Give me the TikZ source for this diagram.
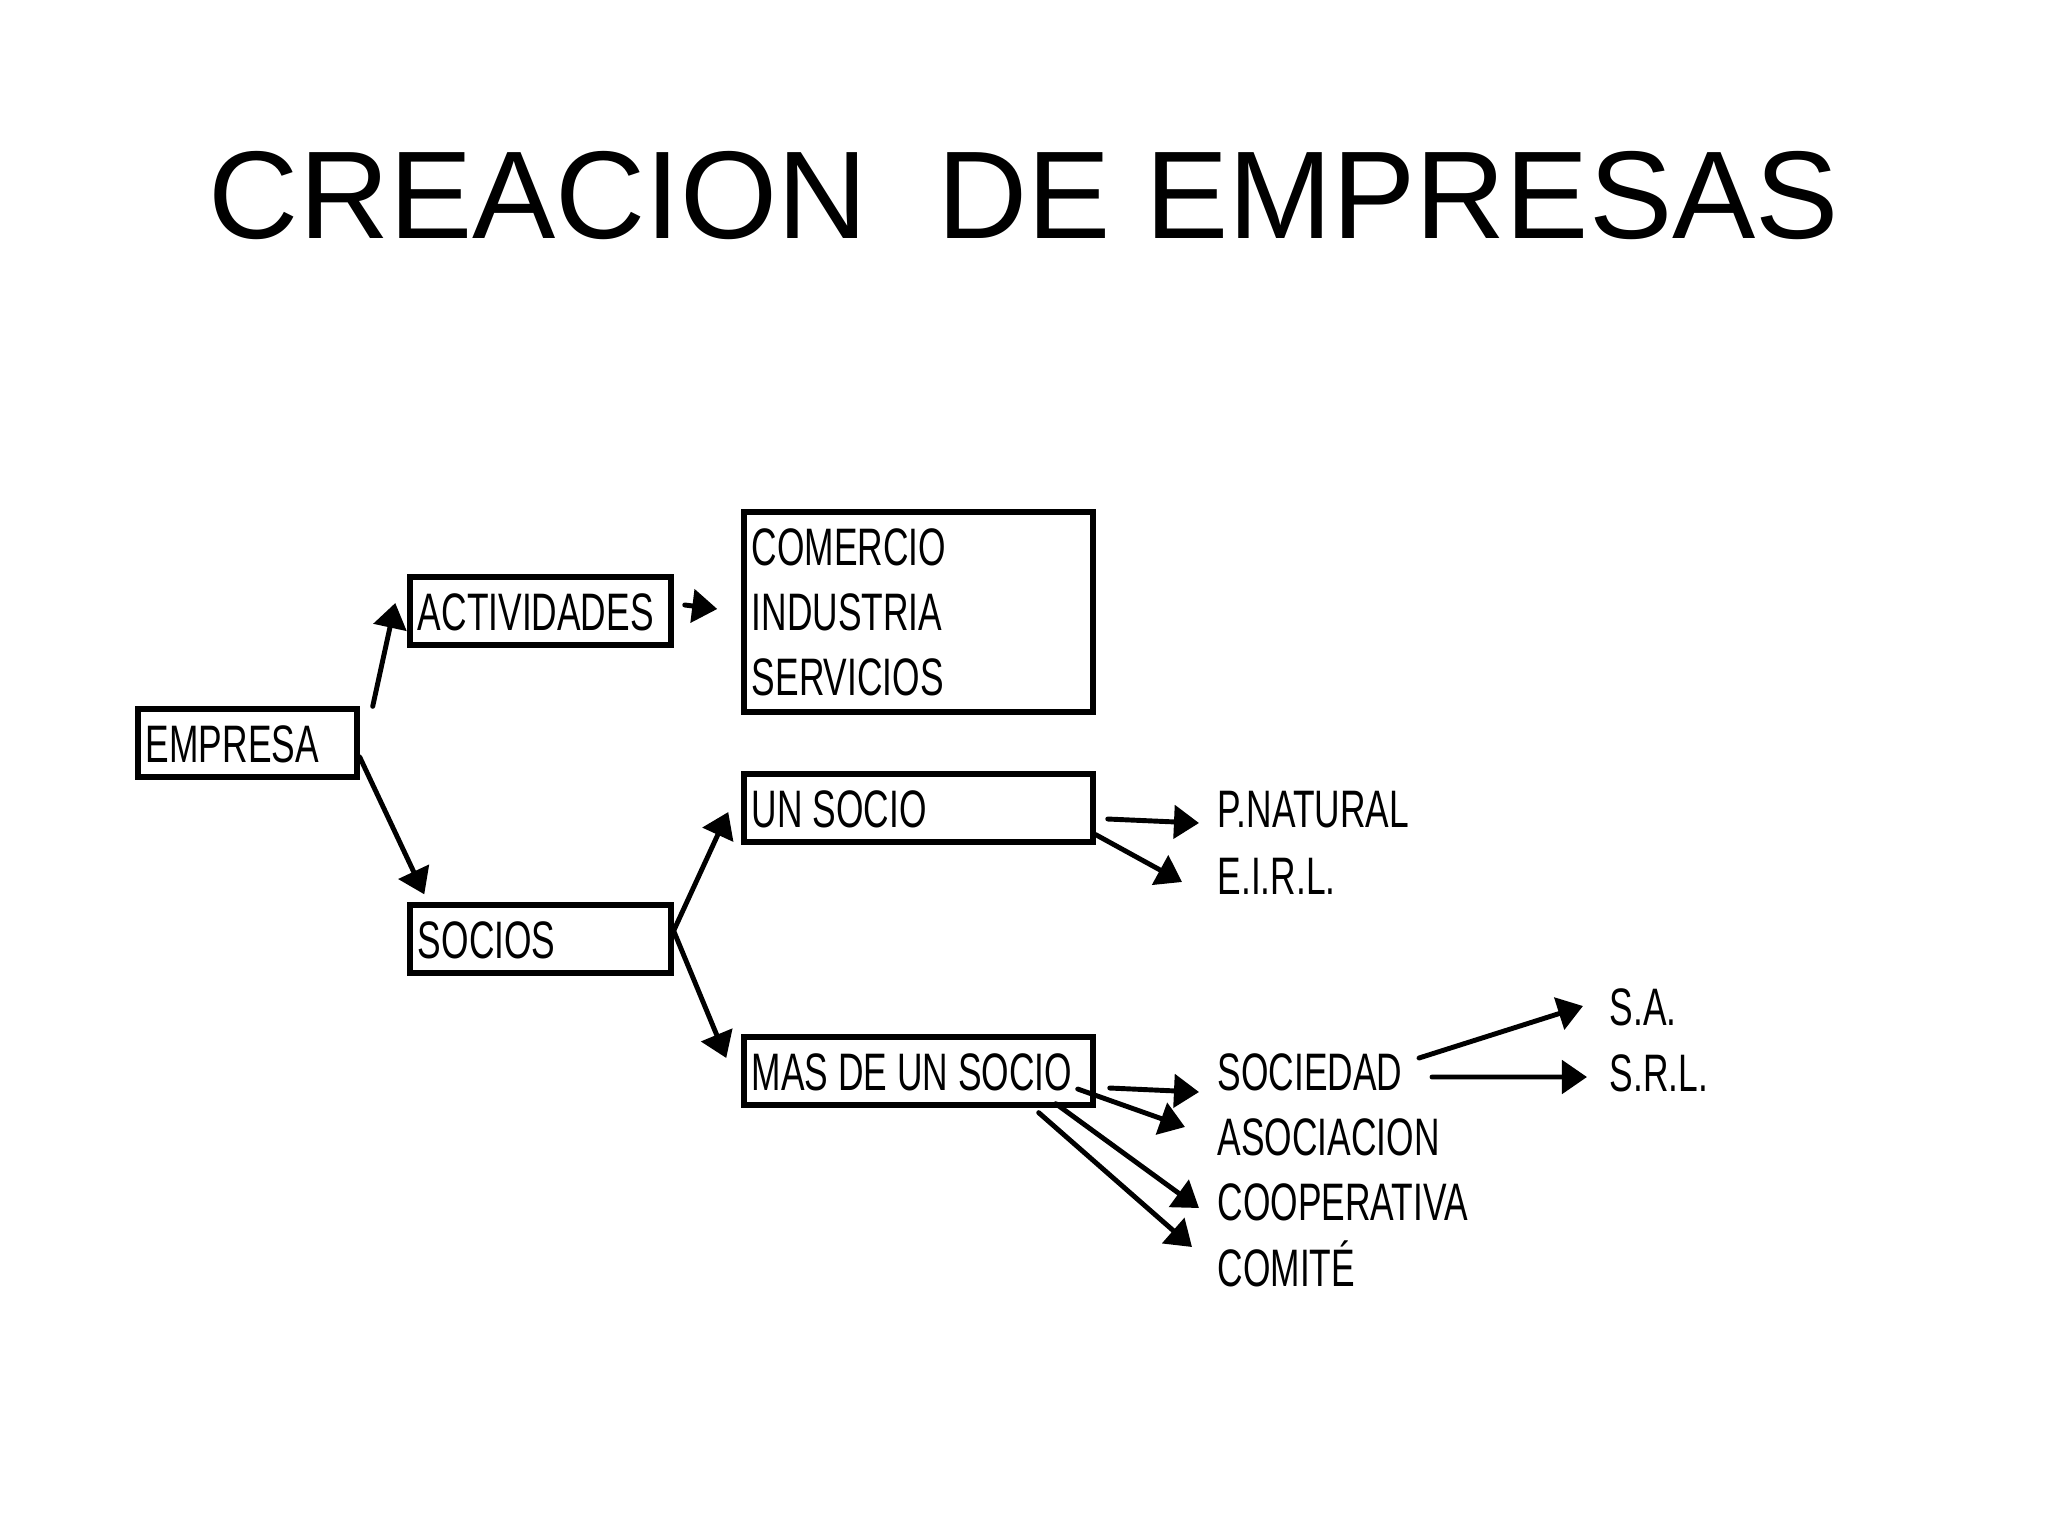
\documentclass[tikz,border=0pt]{standalone}
\usepackage{fontspec}
\setmainfont{Liberation Sans}
\newfontfamily\narrowsf[FakeStretch=0.67]{Liberation Sans}
\newcommand\cuerpo{\narrowsf\fontsize{15}{18.5}\selectfont\fontdimen2\font=2.8pt\spaceskip=2.8pt\relax}
\usetikzlibrary{arrows.meta}

\begin{document}
\begin{tikzpicture}[x=0.01cm,y=-0.01cm,
  caja/.style={draw,line width=1.5pt,inner xsep=0.08cm,inner ysep=0pt,font=\cuerpo},
  linea/.style={minimum height=0.68cm,text height=0.38cm,text depth=0pt},
  etiqueta/.style={anchor=west,inner sep=0pt,font=\cuerpo,
    text height=0.38cm,text depth=0pt},
  flecha/.style={-{Triangle[length=0.25cm,width=0.33cm]},line width=1.4pt,line cap=round}]
  \fill[white] (0,0) rectangle (2048,1536);
  % titulo
  \node (titulo) at (1024,196) {\fontsize{35.5}{40}\selectfont CREACION\ \ DE EMPRESAS};
  % cajas
  \node[caja,linea,text width=2.03cm] (empresa) at (247.5,743) {EMPRESA};
  \node[caja,linea,text width=2.45cm] (actividades) at (540.5,611) {ACTIVIDADES};
  \node[caja,linea,text width=2.45cm] (socios) at (540.5,939) {SOCIOS};
  \node[caja,text width=3.33cm,minimum height=2cm] (ramas) at (918.5,612) {COMERCIO\\INDUSTRIA\\SERVICIOS};
  \node[caja,linea,text width=3.33cm] (unsocio) at (918.5,808) {\cuerpo UN SOCIO};
  \node[caja,linea,text width=3.33cm] (massocio) at (918.5,1071) {\cuerpo MAS DE UN SOCIO};
  % formas
  \node[etiqueta] (pnatural) at (1217,808) {P.NATURAL};
  \node[etiqueta] (eirl) at (1217,875) {E.I.R.L.};
  \node[etiqueta] (sociedad) at (1217,1071) {SOCIEDAD};
  \node[etiqueta] (asociacion) at (1217,1136) {ASOCIACION};
  \node[etiqueta] (cooperativa) at (1217,1201) {COOPERATIVA};
  \node[etiqueta] (comite) at (1217,1267) {COMITÉ};
  \node[etiqueta] (sa) at (1609,1006) {S.A.};
  \node[etiqueta] (srl) at (1609,1072) {S.R.L.};
  % flechas
  \draw[flecha] ([xshift=0.13cm]empresa.north east) -- ([shift={(-0.12cm,0.08cm)}]actividades.west);
  \draw[flecha] ([yshift=-0.14cm]empresa.east) -- ([shift={(0.17cm,0.08cm)}]socios.north west);
  \draw[flecha] ([shift={(0.11cm,0.06cm)}]actividades.east) -- ([shift={(-0.24cm,0.03cm)}]ramas.west);
  \draw[flecha] ([shift={(-0.02cm,0.04cm)}]socios.east) -- ([shift={(-0.13cm,-0.04cm)}]unsocio.west);
  \draw[flecha] ([yshift=0.08cm]socios.east) -- ([shift={(-0.15cm,0.13cm)}]massocio.west);
  \draw[flecha] ([shift={(0.12cm,-0.11cm)}]unsocio.east) -- ([shift={(-0.18cm,-0.15cm)}]pnatural.west);
  \draw[flecha] ([yshift=0.10cm]unsocio.south east) -- ([shift={(-0.35cm,-0.07cm)}]eirl.west);
  \draw[flecha] ([shift={(0.14cm,-0.17cm)}]massocio.east) -- ([shift={(-0.18cm,-0.21cm)}]sociedad.west);
  \draw[flecha] ([shift={(-0.18cm,-0.18cm)}]massocio.east) -- ([shift={(-0.32cm,0.09cm)}]asociacion.west);
  \draw[flecha] ([shift={(-0.40cm,0.04cm)}]massocio.south east) -- ([shift={(-0.18cm,-0.07cm)}]cooperativa.west);
  \draw[flecha] ([shift={(-0.57cm,-0.05cm)}]massocio.south east) -- ([shift={(-0.25cm,0.20cm)}]comite.west);
  \draw[flecha] ([shift={(0.16cm,0.13cm)}]sociedad.east) -- ([xshift=-0.26cm]sa.west);
  \draw[flecha] ([shift={(0.29cm,-0.06cm)}]sociedad.east) -- ([shift={(-0.22cm,-0.05cm)}]srl.west);
\end{tikzpicture}
\end{document}
